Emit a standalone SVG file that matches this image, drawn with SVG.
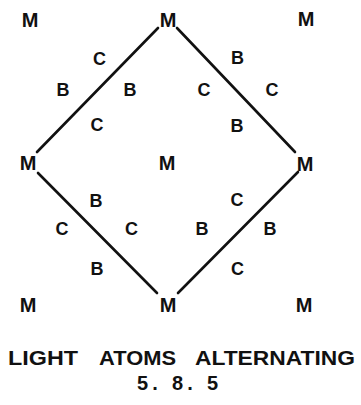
<svg xmlns="http://www.w3.org/2000/svg" width="361" height="405" viewBox="0 0 361 405">
<style>
text{font-family:"Liberation Sans",Arial,sans-serif;font-weight:bold;fill:#111;text-anchor:middle}
.m{font-size:20px}
.a{font-size:18px}
.cap{font-size:20px;text-anchor:start}
line{stroke:#111;stroke-width:2.6;stroke-linecap:round}
</style>
<rect width="361" height="405" fill="#fff"/>
<g id="connectors">
<line x1="158" y1="28" x2="37" y2="152"/>
<line x1="177" y1="28" x2="295" y2="152"/>
<line x1="38" y1="173" x2="157" y2="293"/>
<line x1="298" y1="172" x2="178" y2="293"/>
</g>
<g id="m-tl"><text class="m" x="30" y="27">M</text></g>
<g id="m-t"><text class="m" x="168" y="27">M</text></g>
<g id="m-tr"><text class="m" x="306" y="26">M</text></g>
<g id="m-l"><text class="m" x="28" y="170">M</text></g>
<g id="m-c"><text class="m" x="167" y="170">M</text></g>
<g id="m-r"><text class="m" x="305" y="171">M</text></g>
<g id="m-bl"><text class="m" x="28" y="312">M</text></g>
<g id="m-b"><text class="m" x="168" y="312">M</text></g>
<g id="m-br"><text class="m" x="304" y="312">M</text></g>
<g id="atoms-ul">
<text class="a" x="99.5" y="65">C</text>
<text class="a" x="63" y="96">B</text>
<text class="a" x="130" y="96">B</text>
<text class="a" x="97" y="131">C</text>
</g>
<g id="atoms-ur">
<text class="a" x="237.5" y="64">B</text>
<text class="a" x="204" y="96">C</text>
<text class="a" x="272" y="96">C</text>
<text class="a" x="237" y="132">B</text>
</g>
<g id="atoms-ll">
<text class="a" x="96" y="207">B</text>
<text class="a" x="62" y="235">C</text>
<text class="a" x="131.5" y="235">C</text>
<text class="a" x="97" y="275">B</text>
</g>
<g id="atoms-lr">
<text class="a" x="237" y="206">C</text>
<text class="a" x="202" y="235">B</text>
<text class="a" x="270" y="235">B</text>
<text class="a" x="237.5" y="275">C</text>
</g>
<g id="caption">
<text class="cap" x="8" y="365" textLength="70" lengthAdjust="spacingAndGlyphs">LIGHT</text>
<text class="cap" x="99" y="365" textLength="77" lengthAdjust="spacingAndGlyphs">ATOMS</text>
<text class="cap" x="195" y="365" textLength="160" lengthAdjust="spacingAndGlyphs">ALTERNATING</text>
<text class="cap" x="137" y="390" textLength="81" lengthAdjust="spacing">5. 8. 5</text>
</g>
</svg>
